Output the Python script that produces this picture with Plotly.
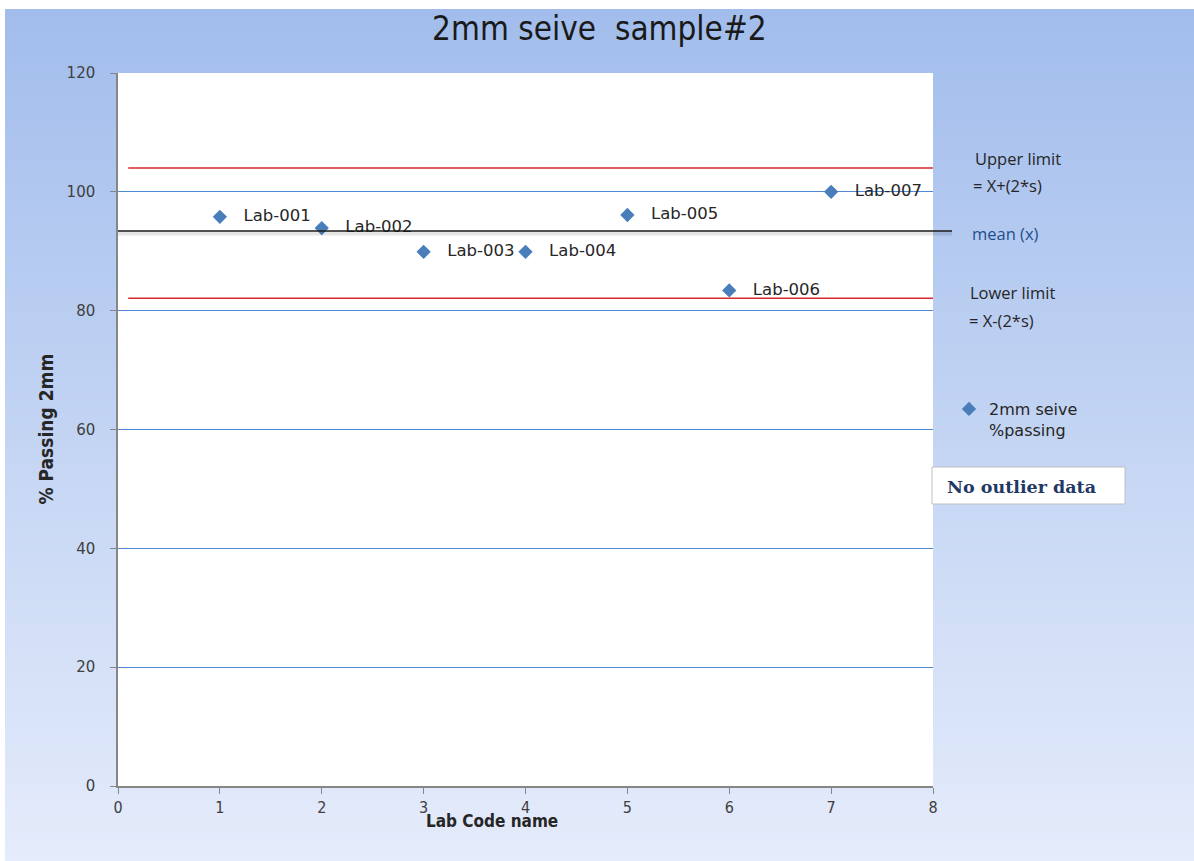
import plotly.graph_objects as go

# ---- data -------------------------------------------------------------
lab_x = [1, 2, 3, 4, 5, 6, 7]
lab_codes = ["Lab-001", "Lab-002", "Lab-003", "Lab-004", "Lab-005", "Lab-006", "Lab-007"]
pct_passing = [95.8, 93.9, 89.9, 89.9, 96.1, 83.4, 100.0]

mean_x = 93.4          # mean (x)
upper_limit = 104.0    # X + 2s
lower_limit = 82.1     # X - 2s

x_ticks = [0, 1, 2, 3, 4, 5, 6, 7, 8]
y_ticks = [0, 20, 40, 60, 80, 100, 120]

# ---- page geometry ----------------------------------------------------
W, H = 1194, 861
ML, MR, MT, MB = 118, 261, 73, 75
PW, PH = W - ML - MR, H - MT - MB

NARROW = "Liberation Sans Narrow, DejaVu Sans Condensed, Liberation Sans"


def px(xp):
    return (xp - ML) / PW


def py(yp):
    return (H - MB - yp) / PH


fig = go.Figure()

fig.add_trace(go.Scatter(
    x=lab_x, y=pct_passing,
    mode="markers+text",
    text=["\u00a0\u00a0\u00a0" + c for c in lab_codes],
    textposition="middle right",
    textfont=dict(family="DejaVu Sans", size=16.5, color="#262626"),
    marker=dict(symbol="diamond", size=11, color="#4a7ebb"),
    name="2mm seive<br>%passing",
    cliponaxis=False,
    showlegend=True,
))

shapes = []

# background gradient of the chart area
top_c = (162, 189, 236)
bot_c = (229, 236, 251)
y_start, y_end, step = 9, H, 4
n = (y_end - y_start) // step + 1
for i in range(n):
    y0 = y_start + i * step
    y1 = min(y0 + step, H)
    t = i / max(n - 1, 1)
    c = tuple(round(a + (b - a) * t) for a, b in zip(top_c, bot_c))
    shapes.append(dict(type="rect", xref="paper", yref="paper",
                       x0=px(5), x1=px(W), y0=py(y1), y1=py(y0),
                       fillcolor="rgb(%d,%d,%d)" % c, line=dict(width=0),
                       layer="below"))

# white plot area
shapes.append(dict(type="rect", xref="x", yref="y", x0=0, x1=8, y0=0, y1=120,
                   fillcolor="white", line=dict(width=0), layer="below"))

# control limits
shapes.append(dict(type="line", xref="x", yref="y", x0=0.1, x1=8.0,
                   y0=upper_limit, y1=upper_limit,
                   line=dict(color="#d42a2f", width=1.5)))
shapes.append(dict(type="line", xref="x", yref="y", x0=0.1, x1=8.0,
                   y0=lower_limit, y1=lower_limit,
                   line=dict(color="#d42a2f", width=1.5)))

# mean line with soft shadow, running a little past the plot edge
shapes.append(dict(type="line", xref="paper", yref="y", ysizemode="pixel",
                   yanchor=mean_x, x0=0, x1=px(952), y0=-2.5, y1=-2.5,
                   line=dict(color="rgba(0,0,0,0.10)", width=4)))
shapes.append(dict(type="line", xref="paper", yref="y", x0=0, x1=px(952),
                   y0=mean_x, y1=mean_x,
                   line=dict(color="#1a1a1a", width=1.5)))

# "No outlier data" box
shapes.append(dict(type="rect", xref="paper", yref="paper",
                   x0=px(932), x1=px(1125), y0=py(504), y1=py(467),
                   fillcolor="white", line=dict(color="#bfbfbf", width=1)))

side_font = dict(family="Open Sans", size=16.5, color="#262626")
annotations = [
    dict(text="Upper limit", x=px(973), y=py(158), font=side_font),
    dict(text="= X+(2*s)", x=px(971), y=py(185), font=side_font),
    dict(text="mean (x)", x=px(970), y=py(233),
         font=dict(family="Open Sans", size=16.5, color="#1f4e8c")),
    dict(text="Lower limit", x=px(968), y=py(292), font=side_font),
    dict(text="= X-(2*s)", x=px(967), y=py(320), font=side_font),
    dict(text="<b>No outlier data</b>", x=px(945), y=py(487),
         font=dict(family="DejaVu Serif", size=17.5, color="#1f3864")),
    dict(text="<b>Lab Code name</b>", x=px(492), y=py(821), xanchor="center",
         font=dict(family=NARROW, size=17, color="#262626")),
    dict(text="<b>% Passing 2mm</b>", x=px(45), y=0.5, xanchor="center", textangle=-90,
         font=dict(family=NARROW, size=19, color="#262626")),
]
for a in annotations:
    a.setdefault("xanchor", "left")
    a.update(xref="paper", yref="paper", yanchor="middle", showarrow=False)

fig.update_layout(
    width=W, height=H,
    margin=dict(l=ML, r=MR, t=MT, b=MB, pad=0),
    paper_bgcolor="white",
    plot_bgcolor="white",
    title=dict(text="2mm seive\u00a0\u00a0sample#2", x=0.502, xanchor="center",
               y=1 - 28 / H, yanchor="middle",
               font=dict(family=NARROW, size=33, color="#1a1a1a")),
    shapes=shapes,
    annotations=annotations,
    legend=dict(x=px(949), y=py(392), xanchor="left", yanchor="top",
                bgcolor="rgba(0,0,0,0)", valign="top",
                font=dict(family="DejaVu Sans", size=16, color="#262626")),
    xaxis=dict(range=[0, 8], tickvals=x_ticks, showgrid=False, zeroline=False,
               showline=True, linecolor="#868686", linewidth=1.5,
               ticks="outside", ticklen=6, tickcolor="#868686",
               tickfont=dict(family=NARROW, size=16, color="#404040")),
    yaxis=dict(range=[0, 120], tickvals=y_ticks, showgrid=True,
               gridcolor="#5089d8", gridwidth=1.2, zeroline=False,
               showline=True, linecolor="#868686", linewidth=1.5,
               ticks="outside", ticklen=6, tickcolor="#868686",
               ticklabelstandoff=12,
               tickfont=dict(family="DejaVu Sans", size=15, color="#404040")),
)

fig.write_html("out.html")
